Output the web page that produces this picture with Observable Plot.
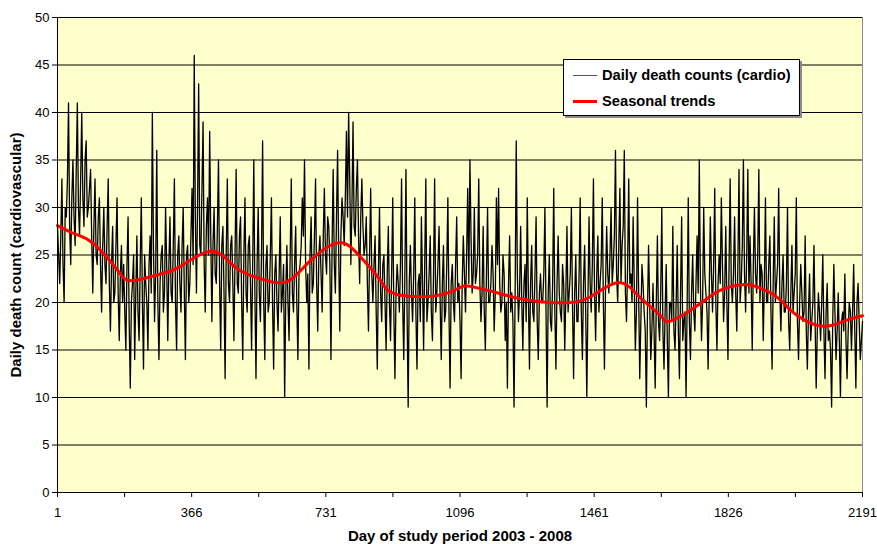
<!DOCTYPE html>
<html>
<head>
<meta charset="utf-8">
<script src="https://cdn.jsdelivr.net/npm/d3@7"></script>
<script src="https://cdn.jsdelivr.net/npm/@observablehq/plot@0.6"></script>
<style>
  body { margin: 0; background: #fff; font-family: Arial, "Liberation Sans", sans-serif; }
  #wrap { position: relative; width: 877px; height: 544px; }
  #legend { position: absolute; left: 563px; top: 59px; width: 237px; height: 57px; background: #fff;
            border: 1px solid #000; box-shadow: 2px 2px 0 #8c8c8c; box-sizing: border-box; }
  .li { position: absolute; left: 9px; height: 18px; display: flex; align-items: center;
        font: bold 14.7px Arial, "Liberation Sans", sans-serif; color: #000; white-space: nowrap; }
  .sw { width: 24px; margin-right: 5px; }
</style>
</head>
<body>
<div id="wrap">
  <div id="chart"></div>
  <div id="legend">
    <div class="li" style="top:6px"><span class="sw" style="border-top:1px solid #555"></span><span id="lg1"></span></div>
    <div class="li" style="top:32px"><span class="sw" style="border-top:3px solid #ff0000"></span><span id="lg2"></span></div>
  </div>
</div>
<script>
const firstDay = 1;
const sampleStep = 3;
const dailyCounts = [
  28,25,22,27,33,24,20,30,29,33,41,28,24,31,35,29,26,34,41,30,
  27,33,40,31,28,35,37,29,30,32,34,27,21,28,33,25,24,29,31,24,
  19,26,30,24,22,28,33,22,17,24,28,20,21,26,31,21,16,23,26,20,
  24,19,15,24,29,18,11,20,22,25,14,21,27,19,16,24,31,20,13,25,
  22,20,15,24,27,21,40,26,18,23,36,20,14,22,25,26,19,21,30,24,
  16,24,29,21,20,26,33,20,15,25,27,22,19,26,30,21,14,25,26,20,
  22,27,32,24,46,29,21,30,43,26,25,32,39,24,19,28,31,25,38,27,
  18,26,30,23,22,28,35,22,15,26,28,21,12,25,33,22,20,26,27,22,
  16,25,34,22,21,27,29,20,14,25,31,21,19,26,27,22,15,24,35,21,
  12,24,30,21,18,25,37,20,14,24,26,19,20,25,31,20,13,23,25,20,
  17,23,29,19,21,24,10,21,26,20,16,25,33,21,19,24,28,20,14,23,
  24,26,31,27,35,24,20,23,13,25,29,21,22,27,33,22,17,25,27,23,
  19,27,32,25,23,29,28,24,14,26,34,24,21,29,36,25,17,27,31,29,
  26,31,38,29,40,33,24,30,39,28,27,32,35,27,22,29,33,28,25,26,
  29,22,17,25,32,23,20,24,27,19,13,23,30,21,18,24,25,20,15,23,
  28,20,16,23,31,19,12,21,24,22,19,24,33,20,14,23,34,19,9,22,
  26,21,18,23,31,19,13,22,23,18,29,22,15,24,33,18,20,23,27,19,
  16,23,33,19,21,24,28,20,14,22,26,18,19,24,31,19,11,22,24,20,
  18,24,29,20,22,18,12,22,27,23,19,25,32,22,35,27,21,23,30,22,
  23,25,33,22,18,21,28,19,15,23,30,20,20,22,26,23,17,21,31,24,
  32,22,19,20,25,23,16,20,11,22,27,19,21,18,9,21,37,23,18,21,
  28,20,15,22,24,18,31,21,13,22,26,19,18,23,29,18,14,21,23,20,
  20,23,30,19,9,21,25,18,17,22,32,19,13,22,27,21,19,18,24,22,
  15,21,28,19,21,23,30,20,12,21,25,18,18,23,31,19,14,22,26,19,
  10,20,29,22,19,24,33,21,16,23,27,19,22,24,31,20,13,22,28,23,
  21,25,30,22,24,27,36,23,20,26,32,22,26,28,36,21,18,24,33,22,
  23,20,29,22,15,19,31,21,12,18,24,22,19,17,9,19,26,20,14,17,
  22,17,11,20,27,18,16,21,30,17,13,19,24,16,10,20,20,18,28,17,
  15,20,26,17,12,21,29,16,18,19,10,20,31,18,14,21,25,19,17,22,
  27,21,35,22,16,20,30,23,21,19,13,21,29,23,19,24,32,20,15,22,
  25,22,31,24,18,21,28,20,14,24,33,22,20,23,29,21,17,24,34,20,
  22,26,35,23,19,25,34,21,27,22,15,24,30,23,21,25,34,20,24,23,
  16,22,31,20,20,24,27,19,13,22,29,20,22,24,32,21,17,22,25,19,
  19,22,30,18,15,21,26,19,21,23,31,18,14,20,24,21,18,19,27,17,
  13,19,23,16,18,20,26,18,11,17,21,19,16,20,25,17,12,19,22,16,
  17,15,9,18,24,19,14,17,21,16,10,18,19,17,23,16,12,17,20,19,
  15,19,24,17,11,20,22,18,14,16,18
];
const trendDays   = [1, 50, 99, 164, 204, 281, 336, 420, 485, 553, 594, 635, 689, 765, 825, 880, 920, 1029, 1097, 1124, 1180, 1260, 1342, 1397, 1451, 1527, 1587, 1642, 1672, 1750, 1805, 1873, 1913, 1954, 1995, 2036, 2090, 2145, 2191];
const trendValues = [28.1, 27.2, 26.2, 23.4, 22.3, 23.0, 23.8, 25.4, 23.7, 22.5, 22.1, 22.4, 24.4, 26.3, 24.8, 22.3, 20.9, 20.7, 21.6, 21.7, 21.2, 20.4, 20.0, 20.0, 20.6, 22.1, 20.5, 18.6, 18.1, 19.9, 21.3, 21.9, 21.5, 20.7, 19.2, 18.1, 17.5, 18.1, 18.6];
const yTicks = [0, 5, 10, 15, 20, 25, 30, 35, 40, 45, 50];
const xLabelDays = [1, 366, 731, 1096, 1461, 1826, 2191];
const xTickMarks = [1, 183.5, 366, 548.5, 731, 913.5, 1096, 1278.5, 1461, 1643.5, 1826, 2008.5, 2191];
const seriesNames = ["Daily death counts (cardio)", "Seasonal trends"];
const xTitle = "Day of study period 2003 - 2008";
const yTitle = "Daily death count (cardiovascular)";

const daily = dailyCounts.map((v, i) => ({day: firstDay + i * sampleStep, count: v}));
const trend = trendDays.map((d, i) => ({day: d, value: trendValues[i]}));

document.getElementById("lg1").textContent = seriesNames[0];
document.getElementById("lg2").textContent = seriesNames[1];

const chart = Plot.plot({
  width: 877,
  height: 544,
  marginLeft: 57,
  marginRight: 15,
  marginTop: 17,
  marginBottom: 52,
  style: {fontFamily: "Arial, 'Liberation Sans', sans-serif", fontSize: "13px", background: "#fff", color: "#000"},
  x: {domain: [1, 2191]},
  y: {domain: [0, 50]},
  marks: [
    Plot.frame({fill: "#FFFFCC", stroke: "#8c8c8c"}),
    Plot.ruleY(yTicks.filter(v => v > 0), {stroke: "#000", strokeWidth: 1}),
    Plot.lineY(daily, {x: "day", y: "count", stroke: "#000", strokeWidth: 1.3}),
    Plot.line(trend, {x: "day", y: "value", stroke: "#ff0000", strokeWidth: 3, curve: "natural"}),
    Plot.ruleY([0], {stroke: "#000"}),
    Plot.ruleX([1], {stroke: "#000"}),
    Plot.axisY({ticks: yTicks, tickSize: 5, tickPadding: 3, label: null, fontSize: 13}),
    Plot.axisY({ticks: [], label: yTitle, labelAnchor: "center", labelArrow: "none", labelOffset: 47, fontWeight: "bold", fontSize: 15}),
    Plot.axisX({ticks: xTickMarks, tickSize: 5, tickFormat: () => "", label: null}),
    Plot.axisX({ticks: xLabelDays, tickSize: 0, tickPadding: 15, tickFormat: d => String(d), label: null, fontSize: 13}),
    Plot.axisX({ticks: [], label: xTitle, labelAnchor: "center", labelArrow: "none", labelOffset: 48, fontWeight: "bold", fontSize: 15})
  ]
});
document.getElementById("chart").appendChild(chart);
</script>
</body>
</html>
